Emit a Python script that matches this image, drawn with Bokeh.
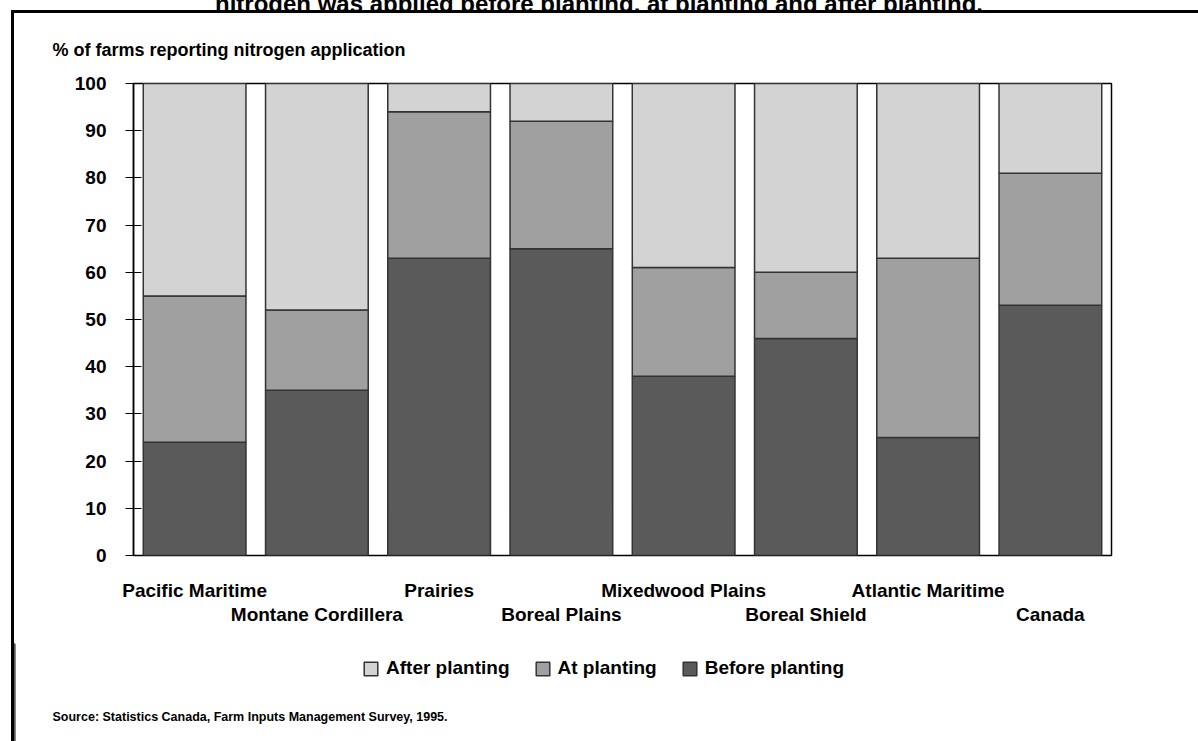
from bokeh.plotting import figure
from bokeh.layouts import column
from bokeh.models import (ColumnDataSource, FactorRange, Range1d, CategoricalAxis,
                          FixedTicker, Legend, LegendItem, Title, Label, Div)
from bokeh.embed import file_html
from bokeh.resources import INLINE

# ---- data ----
regions = ["Pacific Maritime", "Montane Cordillera", "Prairies", "Boreal Plains",
           "Mixedwood Plains", "Boreal Shield", "Atlantic Maritime", "Canada"]
before_planting = [24, 35, 63, 65, 38, 46, 25, 53]
at_planting = [31, 17, 31, 27, 23, 14, 38, 28]
after_planting = [45, 48, 6, 8, 39, 40, 37, 19]
y_ticks = [0, 10, 20, 30, 40, 50, 60, 70, 80, 90, 100]
series_names = ["Before planting", "At planting", "After planting"]
series_colors = ["#5a5a5a", "#a0a0a0", "#d3d3d3"]
title_tail = "nitrogen was applied before planting, at planting and after planting."

FONT = "Liberation Sans"
EDGE = "#333333"

source = ColumnDataSource(dict(region=regions, before=before_planting,
                               at=at_planting, after=after_planting))

p = figure(width=1184, height=630, output_backend="svg", toolbar_location=None,
           x_range=FactorRange(*regions, range_padding=0), y_range=Range1d(0, 100),
           x_axis_location=None, min_border_left=119, min_border_right=87,
           min_border_top=70, min_border_bottom=88)
p.grid.visible = False
p.outline_line_color = "black"
p.outline_line_width = 1.5
p.background_fill_color = "white"
p.border_fill_color = None

renderers = p.vbar_stack(["before", "at", "after"], x="region", width=0.84,
                         color=series_colors, line_color=EDGE, line_width=1.5,
                         source=source)

# y axis
ya = p.yaxis[0]
ya.ticker = FixedTicker(ticks=y_ticks)
ya.major_tick_in = 8
ya.major_tick_out = 8
ya.minor_tick_line_color = None
ya.axis_line_color = "black"
ya.axis_line_width = 1.5
ya.major_tick_line_color = "black"
ya.major_label_standoff = 19
ya.major_label_text_font = FONT
ya.major_label_text_font_style = "bold"
ya.major_label_text_font_size = "19px"
ya.major_label_text_color = "black"

# staggered category labels: two rows, each on its own factor range
row1 = [r if i % 2 == 0 else " " * (i + 1) for i, r in enumerate(regions)]
row2 = [r if i % 2 == 1 else " " * (i + 1) for i, r in enumerate(regions)]
p.extra_x_ranges = {"row1": FactorRange(*row1, range_padding=0),
                    "row2": FactorRange(*row2, range_padding=0)}

def cat_axis(rng, standoff):
    return CategoricalAxis(
        x_range_name=rng,
        axis_line_color=None, major_tick_line_color=None, minor_tick_line_color=None,
        major_label_standoff=standoff, major_tick_out=0, major_tick_in=0,
        major_label_text_font=FONT, major_label_text_font_style="bold",
        major_label_text_font_size="19px", major_label_text_color="black")

p.add_layout(cat_axis("row1", 24), "below")
p.add_layout(cat_axis("row2", 0), "below")

p.add_layout(Title(text="% of farms reporting nitrogen application", align="left",
                   offset=-81, text_font=FONT, text_font_style="bold",
                   text_font_size="18px", text_color="black", standoff=48), "above")

# ---- legend + source strip ----
q = figure(width=1184, height=98, output_backend="svg", toolbar_location=None,
           x_range=Range1d(0, 1), y_range=Range1d(0, 1),
           x_axis_location=None, y_axis_location=None, min_border=0)
q.grid.visible = False
q.outline_line_color = None
q.border_fill_color = None
q.background_fill_color = None
if hasattr(q, "frame_align"):
    q.frame_align = False

# legend swatches: one off-range bar per series, used only for the legend key
dummy = [q.vbar(x=[-5], top=[1], width=0.1, fill_color=c, line_color=EDGE,
                line_width=1.5) for c in series_colors]
legend = Legend(items=[LegendItem(label=series_names[i], renderers=[dummy[i]])
                       for i in (2, 1, 0)],
                orientation="horizontal", location=(348, 62),
                border_line_color=None, background_fill_alpha=0,
                label_text_font=FONT, label_text_font_style="bold",
                label_text_font_size="19px", label_text_color="black",
                glyph_width=17, glyph_height=17, label_standoff=7, spacing=24,
                padding=0, margin=0)
q.add_layout(legend, "center")
q.add_layout(Label(x=38, y=25, x_units="screen", y_units="screen",
                   text="Source: Statistics Canada, Farm Inputs Management Survey, 1995.",
                   text_font=FONT, text_font_style="bold", text_font_size="12.5px",
                   text_baseline="middle", text_color="black"))

inner = column(p, q, spacing=0)
inner.styles = {"border-left": "3px solid black", "border-top": "3px solid black",
                "margin-left": "11px"}

# last line of the page title, cut by the top of the picture
head = Div(text=('<div style="margin-top:-18px; width:1198px; '
                 'text-align:center; font-family:\'Liberation Sans\'; font-weight:bold; '
                 'font-size:24px; line-height:24px; white-space:nowrap; color:black">'
                 + title_tail + '</div>'),
           width=1198, height=10, margin=0, styles={"overflow": "hidden"})

layout = column(head, inner, spacing=0)

open("out.html", "w").write(file_html(layout, INLINE))
